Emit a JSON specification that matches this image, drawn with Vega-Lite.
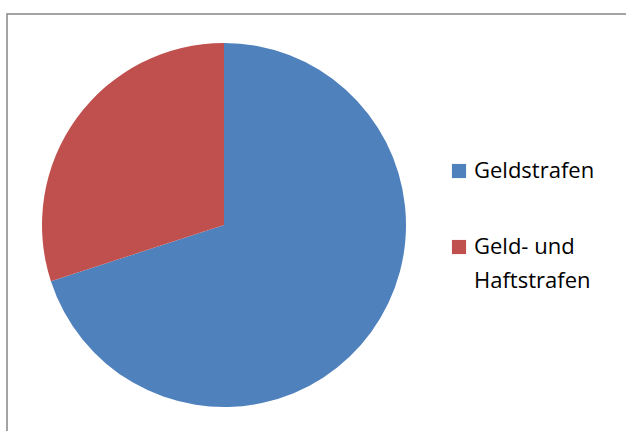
{
  "$schema": "https://vega.github.io/schema/vega-lite/v6.json",
  "width": 640,
  "height": 430,
  "autosize": {"type": "none"},
  "padding": {"left": 7, "top": 14, "right": 0, "bottom": 0},
  "background": "white",
  "config": {
    "view": {"stroke": "#878787", "strokeWidth": 1.5},
    "style": {"guide-label": {"lineHeight": 34}}
  },
  "data": {"values": [
    {"Kategorie": "Geldstrafen", "Anteil": 70},
    {"Kategorie": "Geld- und Haftstrafen", "Anteil": 30}
  ]},
  "mark": {"type": "arc", "radius": 182, "stroke": null},
  "encoding": {
    "x": {"datum": 217, "type": "quantitative", "scale": {"domain": [0, 640], "nice": false, "zero": false}, "axis": null},
    "y": {"datum": 211, "type": "quantitative", "scale": {"domain": [0, 430], "nice": false, "zero": false, "reverse": true}, "axis": null},
    "theta": {"field": "Anteil", "type": "quantitative", "stack": true},
    "order": {"field": "Anteil", "sort": "descending"},
    "color": {
      "field": "Kategorie",
      "type": "nominal",
      "scale": {"domain": ["Geldstrafen", "Geld- und Haftstrafen"], "range": ["#4F81BD", "#C0504D"]},
      "legend": {
        "title": null,
        "orient": "none",
        "legendX": 441,
        "legendY": 146,
        "padding": 0,
        "symbolType": "square",
        "symbolSize": 200,
        "symbolStrokeWidth": 0,
        "labelFont": "Open Sans",
        "labelFontSize": 22,
        "labelColor": "#000000",
        "labelOffset": 4,
        "labelLimit": 300,
        "rowPadding": 54,
        "labelExpr": "datum.label == 'Geld- und Haftstrafen' ? ['Geld- und', 'Haftstrafen'] : datum.label"
      }
    }
  }
}
